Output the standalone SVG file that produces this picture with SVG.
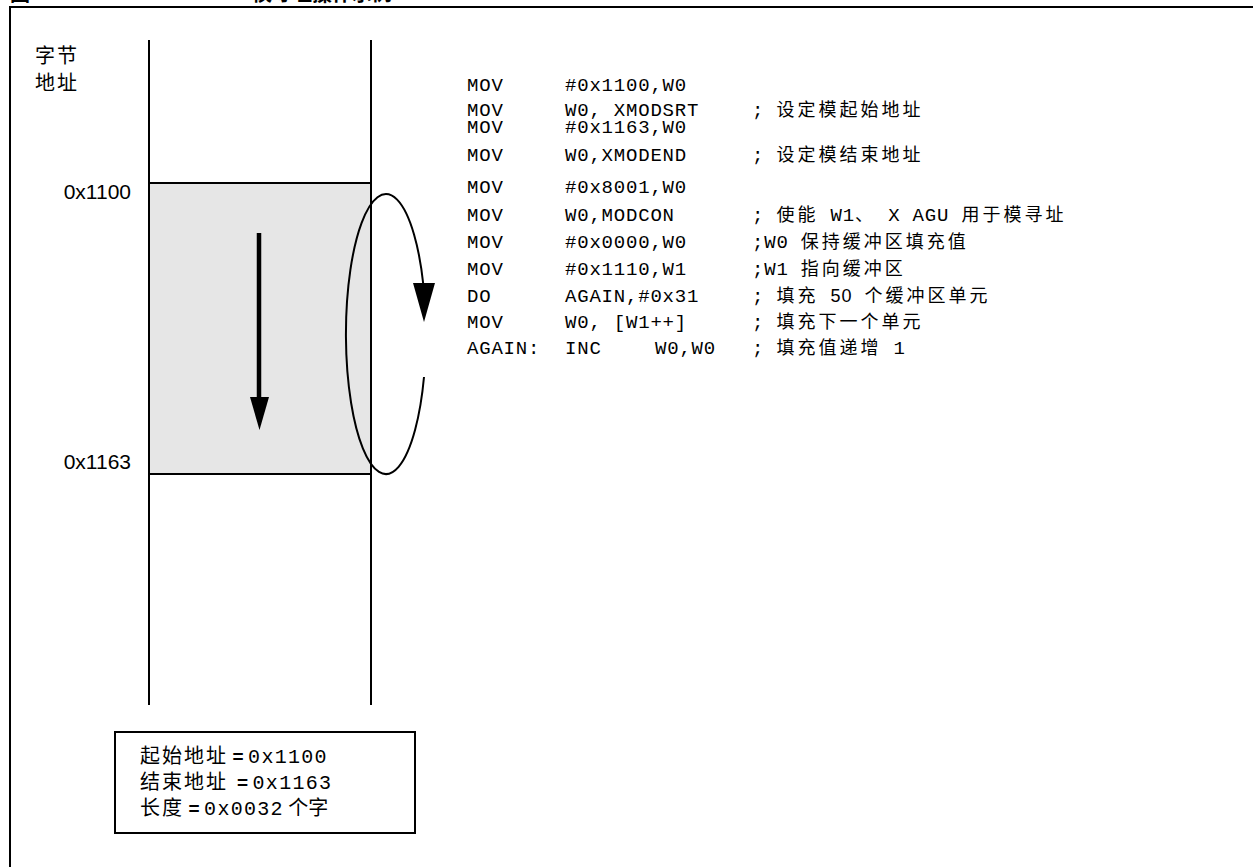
<svg xmlns="http://www.w3.org/2000/svg" width="1253" height="867" viewBox="0 0 1253 867">
<style>
.ln{stroke:#000;stroke-width:2;fill:none}
.code{font-family:"Liberation Mono","Noto Sans CJK SC",monospace;font-size:19px;letter-spacing:0.8px;fill:#000}
.c{font-size:18px;letter-spacing:3px}
.cjk{font-family:"Noto Sans CJK SC",sans-serif;font-size:20px;fill:#000}
.addr{font-family:"Liberation Sans",Arial,sans-serif;font-size:21px;fill:#000;text-anchor:end}
.mono{font-family:"Liberation Mono",monospace;font-size:20px;letter-spacing:1.3px}
.eq{font-family:"Liberation Sans",sans-serif;font-weight:bold;font-size:19px}
.title{font-family:"Noto Sans CJK SC",sans-serif;font-weight:bold;font-size:20px;fill:#000}
</style>
<rect width="1253" height="867" fill="#fff"/>
<g id="title">
<text class="title" x="10" y="1">图</text>
<text class="title" x="252" y="1">模寻址操作示例</text>
</g>
<g id="frame"><path class="ln" d="M10,867 V7 H1253" stroke-width="2.5"/></g>
<g id="axis-label"><text class="cjk" x="35" y="63" letter-spacing="2">字节</text><text class="cjk" x="35" y="90" letter-spacing="2">地址</text></g>
<g id="memory">
<line class="ln" x1="149" y1="40" x2="149" y2="705"/>
<line class="ln" x1="371" y1="40" x2="371" y2="705"/>
<rect x="149" y="183" width="222" height="291" fill="#e6e6e6" stroke="#000" stroke-width="2"/>
</g>
<g id="addr-labels">
<text class="addr" x="131" y="199">0x1100</text>
<text class="addr" x="131" y="469">0x1163</text>
</g>
<g id="connectors">
<line x1="259" y1="233" x2="259" y2="400" stroke="#000" stroke-width="4.5"/>
<polygon points="250,397 269,397 259.5,430" fill="#000"/>
<path class="ln" d="M424,377 A40,140 0 1 1 423.5,286" stroke-width="2"/>
<polygon points="413,283 435,283 424,322" fill="#000"/>
</g>
<g id="code" xml:space="preserve">
<text class="code" x="467" y="91">MOV</text><text class="code" x="565" y="91">#0x1100,W0</text>
<text class="code" x="467" y="116">MOV</text><text class="code" x="565" y="116">W0, XMODSRT</text><text class="code" x="752" y="116">; <tspan class="c">设定模起始地址</tspan></text>
<text class="code" x="467" y="133">MOV</text><text class="code" x="565" y="133">#0x1163,W0</text>
<text class="code" x="467" y="161">MOV</text><text class="code" x="565" y="161">W0,XMODEND</text><text class="code" x="752" y="161">; <tspan class="c">设定模结束地址</tspan></text>
<text class="code" x="467" y="193">MOV</text><text class="code" x="565" y="193">#0x8001,W0</text>
<text class="code" x="467" y="221">MOV</text><text class="code" x="565" y="221">W0,MODCON</text><text class="code" x="752" y="221">; <tspan class="c">使能</tspan> W1<tspan class="c">、</tspan> X AGU <tspan class="c">用于模寻址</tspan></text>
<text class="code" x="467" y="248">MOV</text><text class="code" x="565" y="248">#0x0000,W0</text><text class="code" x="752" y="248">;W0 <tspan class="c">保持缓冲区填充值</tspan></text>
<text class="code" x="467" y="275">MOV</text><text class="code" x="565" y="275">#0x1110,W1</text><text class="code" x="752" y="275">;W1 <tspan class="c">指向缓冲区</tspan></text>
<text class="code" x="467" y="302">DO</text><text class="code" x="565" y="302">AGAIN,#0x31</text><text class="code" x="752" y="302">; <tspan class="c">填充</tspan> <tspan font-family="Liberation Sans" font-size="18">50</tspan> <tspan class="c">个缓冲区单元</tspan></text>
<text class="code" x="467" y="328">MOV</text><text class="code" x="565" y="328">W0, [W1++]</text><text class="code" x="752" y="328">; <tspan class="c">填充下一个单元</tspan></text>
<text class="code" x="467" y="354">AGAIN:</text><text class="code" x="565" y="354">INC</text><text class="code" x="655" y="354">W0,W0</text><text class="code" x="752" y="354">; <tspan class="c">填充值递增</tspan> 1</text>
</g>
<g id="summary-box">
<rect x="115" y="732" width="300" height="101" fill="#fff" stroke="#000" stroke-width="2"/>
<text class="cjk" x="140" y="763" xml:space="preserve"><tspan letter-spacing="2">起始地址</tspan> <tspan class="eq">=</tspan> <tspan class="mono">0x1100</tspan></text>
<text class="cjk" x="140" y="789" xml:space="preserve"><tspan letter-spacing="2">结束地址</tspan>  <tspan class="eq">=</tspan> <tspan class="mono">0x1163</tspan></text>
<text class="cjk" x="140" y="815" xml:space="preserve"><tspan letter-spacing="2">长度</tspan> <tspan class="eq">=</tspan> <tspan class="mono">0x0032</tspan> 个字</text>
</g>
</svg>
